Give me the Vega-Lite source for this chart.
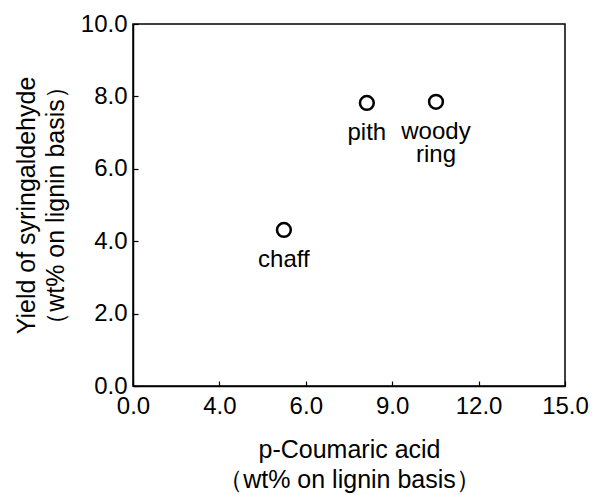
{
  "$schema": "https://vega.github.io/schema/vega-lite/v6.json",
  "autosize": {"type": "none"},
  "padding": {"left": 133, "top": 24, "right": 29, "bottom": 109},
  "width": 432,
  "height": 362,
  "background": "white",
  "config": {
    "font": "Liberation Sans",
    "view": {"stroke": "black", "strokeWidth": 1.5},
    "axis": {
      "grid": false,
      "domainColor": "black",
      "domainWidth": 1.5,
      "tickColor": "black",
      "tickWidth": 1.2,
      "tickSize": -5,
      "labelFlush": false,
      "labelOverlap": false,
      "labelFont": "Liberation Sans",
      "labelFontSize": 24,
      "labelColor": "black",
      "titleFont": "Liberation Sans",
      "titleFontSize": 25,
      "titleFontWeight": "normal",
      "titleColor": "black"
    }
  },
  "data": {
    "values": [
      {"sample": "chaff", "label": "chaff", "pca": 5.24, "yield": 4.31},
      {"sample": "pith", "label": "pith", "pca": 8.12, "yield": 7.82},
      {"sample": "woody ring", "label": "woody|ring", "pca": 10.52, "yield": 7.85}
    ]
  },
  "encoding": {
    "x": {
      "field": "pca",
      "type": "quantitative",
      "scale": {"domain": [0, 15], "nice": false, "zero": false},
      "axis": {
        "values": [0, 3, 6, 9, 12, 15],
        "labelExpr": "datum.value == 3 ? '4.0' : format(datum.value, '.1f')",
        "labelPadding": 13,
        "title": ["p-Coumaric acid", "（wt% on lignin basis）"],
        "titlePadding": 19,
        "titleLineHeight": 30
      }
    },
    "y": {
      "field": "yield",
      "type": "quantitative",
      "scale": {"domain": [0, 10], "nice": false},
      "axis": {
        "values": [0, 2, 4, 6, 8, 10],
        "format": ".1f",
        "labelPadding": 11,
        "title": ["Yield of syringaldehyde", "（wt% on lignin basis）"],
        "titlePadding": 12,
        "titleLineHeight": 29
      }
    }
  },
  "layer": [
    {
      "mark": {"type": "point", "shape": "circle", "filled": false, "stroke": "black", "strokeWidth": 2.5, "size": 190, "opacity": 1}
    },
    {
      "mark": {"type": "text", "fontSize": 24, "baseline": "alphabetic", "align": "center", "dy": 37, "lineBreak": "|", "lineHeight": 23, "color": "black", "font": "Liberation Sans"},
      "encoding": {"text": {"field": "label"}}
    }
  ]
}
